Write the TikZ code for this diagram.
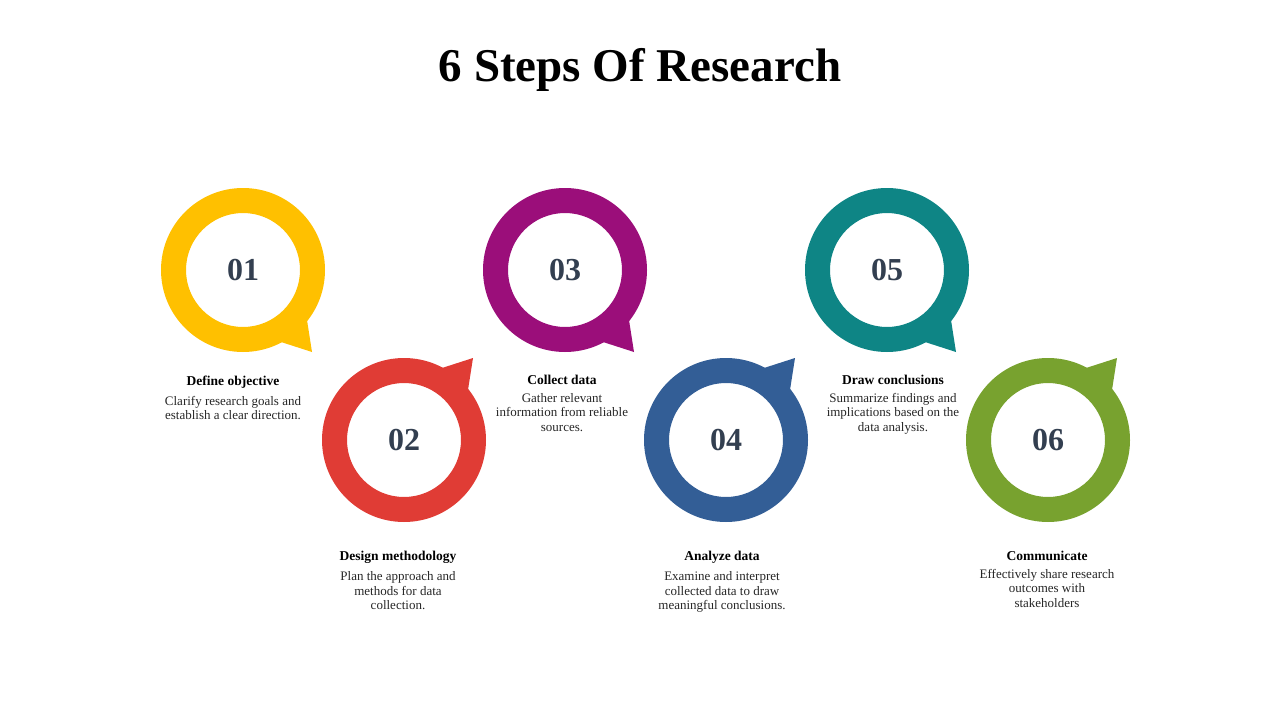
\documentclass[tikz,border=0pt]{standalone}
\usepackage{fontspec}
\setmainfont{Liberation Serif}
\definecolor{styellow}{HTML}{FFC000}
\definecolor{stred}{HTML}{E03C35}
\definecolor{stpurple}{HTML}{9B0E7A}
\definecolor{stblue}{HTML}{335E96}
\definecolor{stteal}{HTML}{0E8585}
\definecolor{stgreen}{HTML}{78A22F}
\definecolor{stnum}{HTML}{333F50}
\usetikzlibrary{positioning,calc}

% ring with pointer: name, x, y, colour, number, flip (1 = tip down, -1 = tip up)
\newcommand{\stepring}[6]{%
  \fill[#4, even odd rule] (#2,#3) circle (82pt) (#2,#3) circle (57pt);
  \fill[#4] ($(#2,#3)+(38,#6*72)$) -- ($(#2,#3)+(69,#6*82)$) -- ($(#2,#3)+(64,#6*50)$) -- cycle;
  \node[numtext] (#1) at (#2,#3) {#5};
}

\begin{document}
\begin{tikzpicture}[x=1pt,y=-1pt,
  numtext/.style={font=\fontsize{32}{34}\selectfont\bfseries, text=stnum},
  headtext/.style={font=\fontsize{13.5}{15}\selectfont\bfseries, anchor=north},
  bodytext/.style={font=\fontsize{13}{14.5}\selectfont, align=center, anchor=north, text=black!85}]
\useasboundingbox (0,0) rectangle (1280,720);
\node[font=\fontsize{47}{50}\selectfont\bfseries] (title) at (640,70) {6 Steps Of Research};

% rings
\stepring{s1}{243}{270}{styellow}{01}{1}
\stepring{s2}{404}{440}{stred}{02}{-1}
\stepring{s3}{565}{270}{stpurple}{03}{1}
\stepring{s4}{726}{440}{stblue}{04}{-1}
\stepring{s5}{887}{270}{stteal}{05}{1}
\stepring{s6}{1048}{440}{stgreen}{06}{-1}

% labels
\node[headtext] (h1) at (233,372) {Define objective};
\node[bodytext, below=1pt of h1] (b1) {Clarify research goals and\\establish a clear direction.};
\node[headtext] (h2) at (398,548) {Design methodology};
\node[bodytext, below=1pt of h2] (b2) {Plan the approach and\\methods for data\\collection.};
\node[headtext] (h3) at (562,372) {Collect data};
\node[bodytext, below=1pt of h3] (b3) {Gather relevant\\information from reliable\\sources.};
\node[headtext] (h4) at (722,548) {Analyze data};
\node[bodytext, below=1pt of h4] (b4) {Examine and interpret\\collected data to draw\\meaningful conclusions.};
\node[headtext] (h5) at (893,372) {Draw conclusions};
\node[bodytext, below=1pt of h5] (b5) {Summarize findings and\\implications based on the\\data analysis.};
\node[headtext] (h6) at (1047,548) {Communicate};
\node[bodytext, below=1pt of h6] (b6) {Effectively share research\\outcomes with\\stakeholders};
\end{tikzpicture}
\end{document}
